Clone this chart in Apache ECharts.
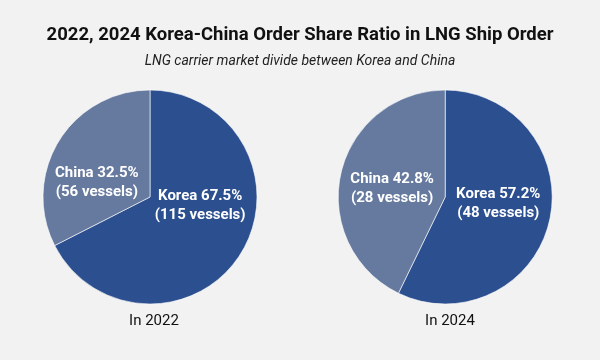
<!DOCTYPE html>
<html><head><meta charset="utf-8">
<script src="https://cdn.jsdelivr.net/npm/echarts@6/dist/echarts.min.js"></script>
<style>html,body{margin:0;padding:0;background:#f2f2f2;}#c{width:600px;height:360px;}</style>
</head><body><div id="c"></div>
<script>
const years = ['2022', '2024'];
const categories = ['Korea', 'China'];
const shares2022 = [67.5, 32.5];
const vessels2022 = [115, 56];
const shares2024 = [57.2, 42.8];
const vessels2024 = [48, 28];

const FONT = "'Roboto', 'Noto Sans', sans-serif";
const colors = ['#2c4f8f', '#667a9f'];
const centers = [['25%', 197], ['74.2%', 197]];
const labelOffsets = [
  [[2, -21], [-5, 15]],
  [[-2, -6], [2, 4]]
];
const allShares = [shares2022, shares2024];
const allVessels = [vessels2022, vessels2024];

const series = years.map((y, i) => ({
  type: 'pie',
  center: centers[i],
  radius: [0, 107],
  startAngle: 90,
  clockwise: true,
  silent: true,
  animation: false,
  itemStyle: { borderColor: 'rgba(255,255,255,0.6)', borderWidth: 1 },
  labelLine: { show: false },
  data: categories.map((c, j) => ({
    name: c,
    value: allShares[i][j],
    vessels: allVessels[i][j],
    itemStyle: { color: colors[j] },
    label: {
      show: true,
      position: 'inside',
      offset: labelOffsets[i][j],
      formatter: c + ' ' + allShares[i][j].toFixed(1) + '%\n(' + allVessels[i][j] + ' vessels)',
      color: '#ffffff',
      fontFamily: FONT,
      fontWeight: 'bold',
      fontSize: 15,
      lineHeight: 19,
      align: 'center'
    }
  }))
}));

const chart = echarts.init(document.getElementById('c'));
chart.setOption({
  backgroundColor: '#f2f2f2',
  title: [
    { text: '2022, 2024 Korea-China Order Share Ratio in LNG Ship Order', left: 'center', top: 21,
      textStyle: { fontFamily: FONT, fontWeight: 'bold', fontSize: 18.5, color: '#111' } },
    { text: 'LNG carrier market divide between Korea and China', left: 'center', top: 49,
      textStyle: { fontFamily: FONT, fontStyle: 'italic', fontWeight: 'normal', fontSize: 14, color: '#222' } },
    { text: 'In ' + years[0], left: 149, top: 309, textAlign: 'center',
      textStyle: { fontFamily: FONT, fontWeight: 'normal', fontSize: 15, color: '#111' } },
    { text: 'In ' + years[1], left: 445, top: 309, textAlign: 'center',
      textStyle: { fontFamily: FONT, fontWeight: 'normal', fontSize: 15, color: '#111' } }
  ],
  series: series
});
</script></body></html>
